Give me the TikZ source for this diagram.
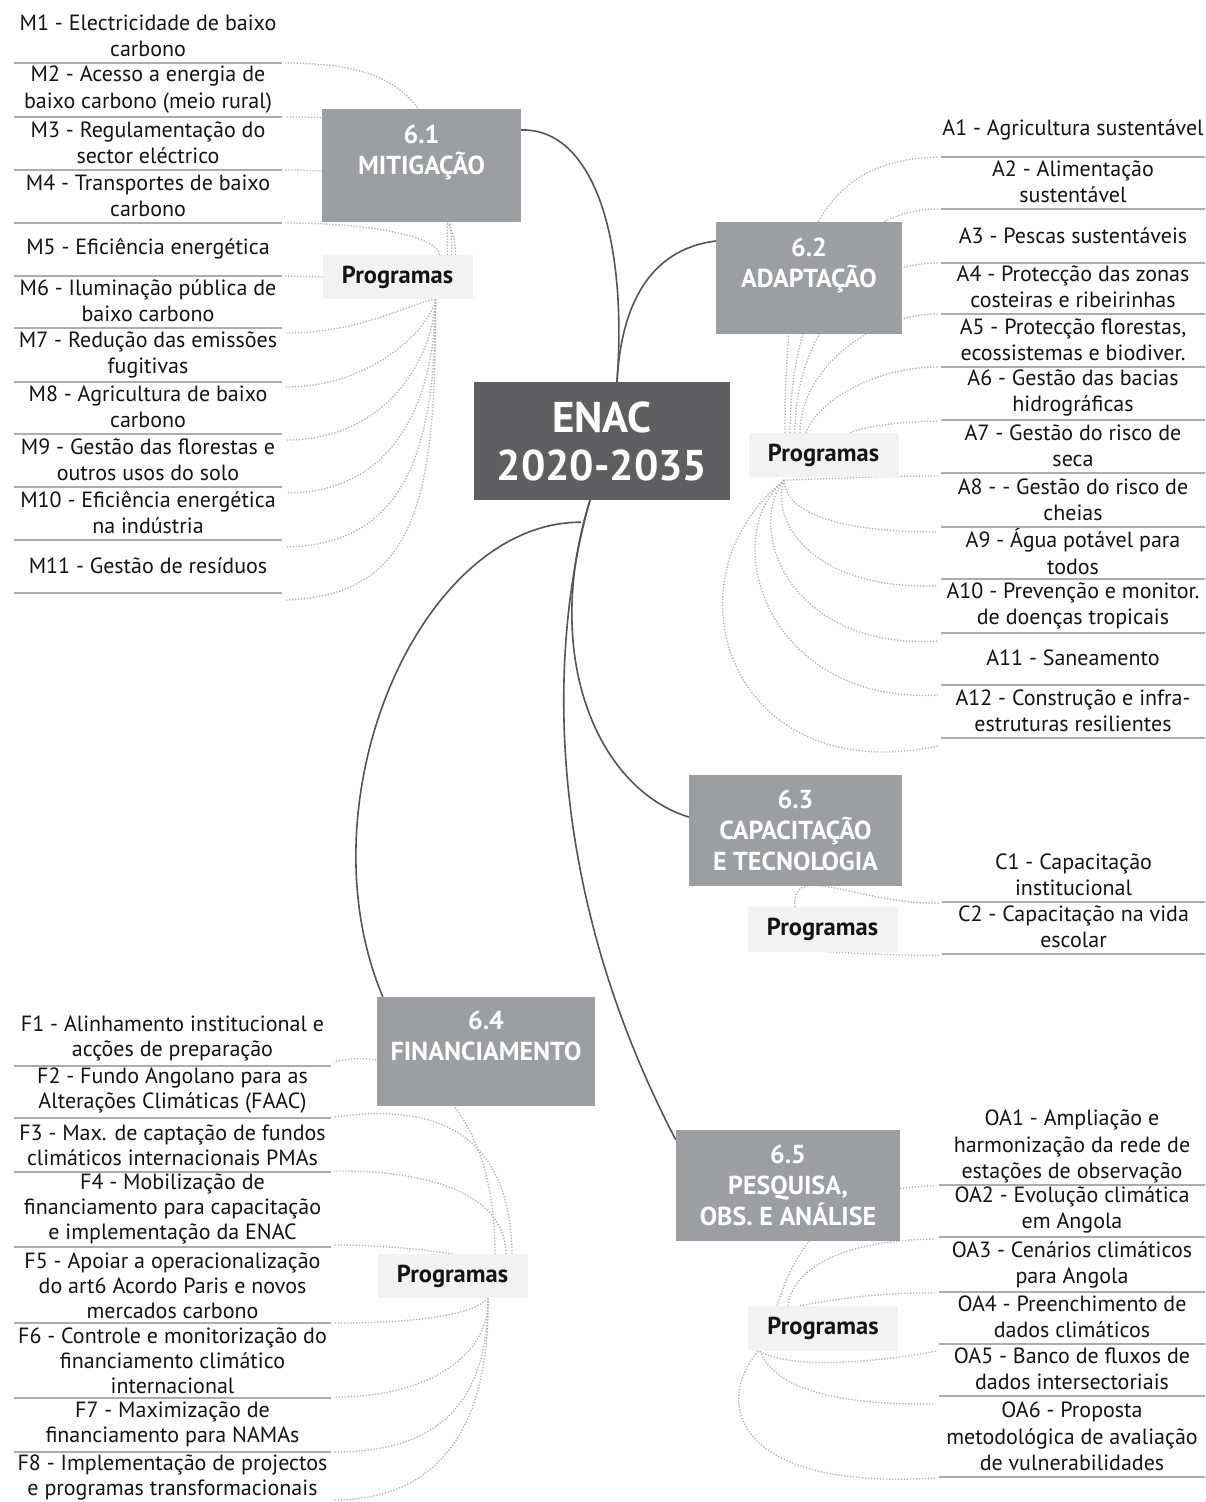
\documentclass[tikz,border=0pt]{standalone}
\usepackage{fontspec}
\setmainfont{PT Sans}
\usetikzlibrary{backgrounds}
\definecolor{secgray}{HTML}{9D9EA1}
\definecolor{enacgray}{HTML}{5F5F62}
\definecolor{proggray}{HTML}{F2F2F2}
\definecolor{linegray}{HTML}{ADADAD}
\definecolor{dotgray}{HTML}{B3B3B3}
\definecolor{trunkgray}{HTML}{555555}
\definecolor{txt}{HTML}{141414}
\newcommand\itemfont{\fontsize{22}{26.5}\selectfont}
\newcommand\finfont{\fontsize{22}{25}\selectfont}
\tikzset{
  sec/.style={fill=secgray, text=white, font=\bfseries\fontsize{26}{31}\selectfont, align=center, inner sep=0pt},
  prog/.style={fill=proggray, text=txt, font=\bfseries\fontsize{24.5}{28}\selectfont, inner sep=0pt, minimum width=150pt, minimum height=44pt},
  enacbox/.style={fill=enacgray, text=white, font=\bfseries\fontsize{43}{48}\selectfont, align=center, inner sep=0pt, minimum width=256pt, minimum height=118pt},
  uline/.style={draw=linegray, line width=2pt},
  itm/.style={text=txt, align=center, inner sep=0pt, anchor=south, minimum height=54pt,
    append after command={(\tikzlastnode.south west) edge[uline] (\tikzlastnode.south east)}},
  mcol/.style={itm, minimum width=268pt, font=\itemfont},
  acol/.style={itm, minimum width=264pt, font=\itemfont},
  ccol/.style={itm, minimum width=263pt, font=\itemfont},
  fcol/.style={itm, minimum width=317pt, font=\finfont},
  ocol/.style={itm, minimum width=266pt, font=\itemfont},
  dotc/.style={draw=dotgray, line width=1.3pt, dash pattern=on 1.3pt off 1.7pt},
  trunk/.style={draw=trunkgray, line width=1.6pt}
}
\begin{document}
\begin{tikzpicture}[x=1pt, y=-1pt]
\useasboundingbox (0,0) rectangle (1205,1502);

% central and section boxes
\node[enacbox] (enac) at (602,441) {ENAC\\2020-2035};
\node[sec, minimum width=199pt, minimum height=113pt] (mit) at (421.5,165.5) {6.1\\MITIGAÇÃO\\\mbox{}};
\node[sec, minimum width=186pt, minimum height=112pt] (ada) at (809,278) {6.2\\ADAPTAÇÃO\\\mbox{}};
\node[sec, minimum width=213pt, minimum height=111pt] (cap) at (795.5,830.5) {6.3\\CAPACITAÇÃO\\E TECNOLOGIA};
\node[sec, minimum width=218pt, minimum height=109pt] (fin) at (486,1051.5) {6.4\\FINANCIAMENTO\\\mbox{}};
\node[sec, minimum width=224pt, minimum height=111pt] (pes) at (788,1185.5) {6.5\\PESQUISA,\\OBS. E ANÁLISE};

% Programas boxes
\node[prog] (pm) at (397.5,277) {Programas};
\node[prog] (pa) at (823.5,455) {Programas};
\node[prog, minimum height=45pt] (pc) at (822.5,929.5) {Programas};
\node[prog] (pf) at (452.5,1276) {Programas};
\node[prog, minimum height=45pt] (pp) at (823,1328.5) {Programas};

% Mitigation items
\node[mcol] (m1) at (148,63) {M1 - Electricidade de baixo\\carbono};
\node[mcol] (m2) at (148,117) {M2 - Acesso a energia de\\baixo carbono (meio rural)};
\node[mcol] (m3) at (148,170) {M3 - Regulamentação do\\sector eléctrico};
\node[mcol] (m4) at (148,223) {M4 - Transportes de baixo\\carbono};
\node[mcol] (m5) at (148,276) {M5 - Eficiência energética};
\node[mcol] (m6) at (148,328) {M6 - Iluminação pública de\\baixo carbono};
\node[mcol] (m7) at (148,382) {M7 - Redução das emissões\\fugitivas};
\node[mcol] (m8) at (148,434) {M8 - Agricultura de baixo\\carbono};
\node[mcol] (m9) at (148,487) {M9 - Gestão das florestas e\\outros usos do solo};
\node[mcol] (m10) at (148,540) {M10 - Eficiência energética\\na indústria};
\node[mcol] (m11) at (148,593) {M11 - Gestão de resíduos};

% Adaptation items
\node[acol] (a1) at (1073,157) {A1 - Agricultura sustentável};
\node[acol] (a2) at (1073,209) {A2 - Alimentação\\sustentável};
\node[acol] (a3) at (1073,263) {A3 - Pescas sustentáveis};
\node[acol] (a4) at (1073,314) {A4 - Protecção das zonas\\costeiras e ribeirinhas};
\node[acol] (a5) at (1073,367) {A5 - Protecção florestas,\\ecossistemas e biodiver.};
\node[acol] (a6) at (1073,420) {A6 - Gestão das bacias\\hidrográficas};
\node[acol] (a7) at (1073,473) {A7 - Gestão do risco de\\seca};
\node[acol] (a8) at (1073,527) {A8 - - Gestão do risco de\\cheias};
\node[acol] (a9) at (1073,579) {A9 - Água potável para\\todos};
\node[acol] (a10) at (1073,633) {A10 - Prevenção e monitor.\\de doenças tropicais};
\node[acol] (a11) at (1073,685) {A11 - Saneamento};
\node[acol] (a12) at (1073,738) {A12 - Construção e infra-\\estruturas resilientes};

% Capacitation items
\node[ccol] (c1) at (1073.5,902) {C1 - Capacitação\\institucional};
\node[ccol] (c2) at (1073.5,954) {C2 - Capacitação na vida\\escolar};

% Financing items
\node[fcol] (f1) at (172.5,1066) {F1 - Alinhamento institucional e\\acções de preparação};
\node[fcol] (f2) at (172.5,1118) {F2 - Fundo Angolano para as\\Alterações Climáticas (FAAC)};
\node[fcol] (f3) at (172.5,1172) {F3 - Max. de captação de fundos\\climáticos internacionais PMAs};
\node[fcol, minimum height=76pt] (f4) at (172.5,1247) {F4 - Mobilização de\\financiamento para capacitação\\e implementação da ENAC};
\node[fcol, minimum height=74pt] (f5) at (172.5,1323) {F5 - Apoiar a operacionalização\\do art6 Acordo Paris e novos\\mercados carbono};
\node[fcol, minimum height=74pt] (f6) at (172.5,1398) {F6 - Controle e monitorização do\\financiamento climático\\internacional};
\node[fcol] (f7) at (172.5,1452) {F7 - Maximização de\\financiamento para NAMAs};
\node[fcol, minimum height=50pt] (f8) at (172.5,1503) {F8 - Implementação de projectos\\e programas transformacionais};

% Research items
\node[ocol, minimum height=76pt] (oa1) at (1072,1185) {OA1 - Ampliação e\\harmonização da rede de\\estações de observação};
\node[ocol] (oa2) at (1072,1237) {OA2 - Evolução climática\\em Angola};
\node[ocol] (oa3) at (1072,1292) {OA3 - Cenários climáticos\\para Angola};
\node[ocol] (oa4) at (1072,1344) {OA4 - Preenchimento de\\dados climáticos};
\node[ocol] (oa5) at (1072,1396) {OA5 - Banco de fluxos de\\dados intersectoriais};
\node[ocol, minimum height=81pt] (oa6) at (1072,1477) {OA6 - Proposta\\metodológica de avaliação\\de vulnerabilidades};

\begin{pgfonlayer}{background}
\fill[white] (0,0) rectangle (1205,1502);
% trunk connectors
\draw[trunk] ([shift={(15,0)}]enac.north) .. controls (628,230) and (590,128) .. ([shift={(0,-35.5)}]mit.east);
\draw[trunk] ([shift={(15,0)}]enac.north) .. controls (622,290) and (660,248) .. ([shift={(0,-37)}]ada.west);
\draw[trunk] ([shift={(-12,0)}]enac.south) .. controls (540,660) and (600,790) .. ([shift={(0,-13.5)}]cap.west);
\draw[trunk] ([shift={(-12,0)}]enac.south) .. controls (550,640) and (540,880) .. ([shift={(0,10)}]pes.north west);
\draw[trunk] ([shift={(-21,22)}]enac.south) .. controls (420,522) and (300,800) .. ([shift={(6,0)}]fin.north west);

% Mitigation connectors
\draw[dotc] ([shift={(50,0)}]pm.north) .. controls (448,110) and (415,63) .. ([shift={(3,0)}]m1.south east);
\draw[dotc] ([shift={(54,0)}]pm.north) .. controls (452,150) and (410,115) .. ([shift={(3,0)}]m2.south east);
\draw[dotc] ([shift={(58,0)}]pm.north) .. controls (456,200) and (400,170) .. ([shift={(3,0)}]m3.south east);
\draw[dotc] ([shift={(42,0)}]pm.north) .. controls (440,240) and (385,223) .. ([shift={(3,0)}]m4.south east);
\draw[dotc] (pm.west) -- ([shift={(3,0)}]m5.south east);
\draw[dotc] ([shift={(38,0)}]pm.south) .. controls (405,305) and (360,333) .. ([shift={(4,5)}]m6.south east);
\draw[dotc] ([shift={(38,0)}]pm.south) .. controls (430,330) and (370,387) .. ([shift={(4,5)}]m7.south east);
\draw[dotc] ([shift={(38,0)}]pm.south) .. controls (433,360) and (385,440) .. ([shift={(4,6)}]m8.south east);
\draw[dotc] ([shift={(38,0)}]pm.south) .. controls (435,400) and (395,493) .. ([shift={(4,6)}]m9.south east);
\draw[dotc] ([shift={(38,0)}]pm.south) .. controls (436,450) and (405,545) .. ([shift={(4,7)}]m10.south east);
\draw[dotc] ([shift={(38,0)}]pm.south) .. controls (436,500) and (417,595) .. ([shift={(4,7)}]m11.south east);

% Adaptation connectors
\draw[dotc] ([shift={(-38.5,0)}]pa.north) .. controls (785,260) and (810,160) .. ([shift={(-3,0)}]a1.south west);
\draw[dotc] ([shift={(-33.5,0)}]pa.north) .. controls (790,300) and (850,209) .. ([shift={(-3,0)}]a2.south west);
\draw[dotc] ([shift={(-28.5,0)}]pa.north) .. controls (795,330) and (860,263) .. ([shift={(-3,0)}]a3.south west);
\draw[dotc] ([shift={(-23.5,0)}]pa.north) .. controls (800,370) and (870,314) .. ([shift={(-3,0)}]a4.south west);
\draw[dotc] ([shift={(-17.5,0)}]pa.north) .. controls (815,405) and (870,367) .. ([shift={(-3,0)}]a5.south west);
\draw[dotc] ([shift={(26.5,0)}]pa.north) .. controls (860,428) and (890,422) .. ([shift={(-3,1)}]a6.south west);
\draw[dotc] ([shift={(-39.5,3)}]pa.south) .. controls (820,479) and (880,476) .. ([shift={(-3,3)}]a7.south west);
\draw[dotc] ([shift={(-39.5,3)}]pa.south) .. controls (785,510) and (830,532) .. ([shift={(-3,5)}]a8.south west);
\draw[dotc] ([shift={(-39.5,3)}]pa.south) .. controls (770,520) and (810,590) .. ([shift={(-3,7)}]a9.south west);
\draw[dotc] ([shift={(-39.5,3)}]pa.south) .. controls (745,530) and (790,650) .. ([shift={(-3,8)}]a10.south west);
\draw[dotc] ([shift={(-39.5,3)}]pa.south) .. controls (715,540) and (770,705) .. ([shift={(-3,10)}]a11.south west);
\draw[dotc] ([shift={(-39.5,3)}]pa.south) .. controls (660,580) and (730,790) .. ([shift={(-3,8)}]a12.south west);

% Capacitation connectors
\draw[dotc] ([shift={(-27.5,0)}]pc.north) .. controls (790,860) and (860,905) .. ([shift={(-3,1)}]c1.south west);
\draw[dotc] ([shift={(-22.5,-2)}]pc.south) .. controls (850,953) and (900,956) .. ([shift={(-3,1)}]c2.south west);

% Financing connectors
\draw[dotc] ([shift={(42.5,0)}]pf.north) .. controls (495,1090) and (400,1045) .. ([shift={(3,-4)}]f1.south east);
\draw[dotc] ([shift={(59.5,0)}]pf.north) .. controls (510,1120) and (420,1105) .. ([shift={(3,-1)}]f2.south east);
\draw[dotc] ([shift={(53.5,0)}]pf.north) .. controls (505,1190) and (420,1170) .. ([shift={(3,-1)}]f3.south east);
\draw[dotc] ([shift={(17.5,4)}]pf.north) .. controls (440,1250) and (380,1245) .. ([shift={(3,-2)}]f4.south east);
\draw[dotc] ([shift={(35.5,0)}]pf.south) .. controls (470,1318) and (400,1323) .. ([shift={(3,0)}]f5.south east);
\draw[dotc] ([shift={(35.5,0)}]pf.south) .. controls (490,1360) and (420,1398) .. ([shift={(3,-1)}]f6.south east);
\draw[dotc] ([shift={(35.5,0)}]pf.south) .. controls (488,1420) and (420,1452) .. ([shift={(3,0)}]f7.south east);
\draw[dotc] ([shift={(35.5,0)}]pf.south) .. controls (490,1450) and (420,1500) .. ([shift={(3,-3)}]f8.south east);

% Research connectors
\draw[dotc] ([shift={(-46,0)}]pp.north) .. controls (800,1230) and (850,1186) .. ([shift={(-4,1)}]oa1.south west);
\draw[dotc] ([shift={(-35,0)}]pp.north) .. controls (792,1270) and (840,1240) .. ([shift={(-4,2)}]oa2.south west);
\draw[dotc] ([shift={(-23,0)}]pp.north) .. controls (830,1300) and (880,1292) .. ([shift={(-4,1)}]oa3.south west);
\draw[dotc] ([shift={(-63,0)}]pp.south) .. controls (790,1370) and (880,1362) .. ([shift={(-2,7)}]oa4.south west);
\draw[dotc] ([shift={(-63,0)}]pp.south) .. controls (775,1390) and (840,1405) .. ([shift={(-4,8)}]oa5.south west);
\draw[dotc] ([shift={(-65,0)}]pp.south) .. controls (710,1410) and (745,1490) .. ([shift={(-4,1)}]oa6.south west);
\end{pgfonlayer}
\end{tikzpicture}
\end{document}
